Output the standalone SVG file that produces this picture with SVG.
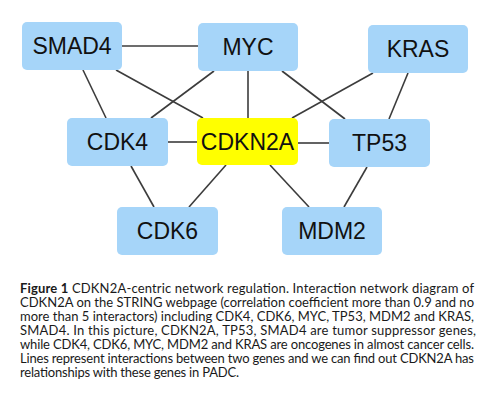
<svg xmlns="http://www.w3.org/2000/svg" width="487" height="409" viewBox="0 0 487 409">
<style>
.node rect{fill:#a6d5f9;}
.node.center rect{fill:#ffff00;}
.node text{font-family:"Liberation Sans",Arial,sans-serif;font-size:23px;fill:#111;text-anchor:middle;}
.edges line{stroke:#3c3c3c;stroke-width:1.6;}
.cap{font-family:Lato,"Open Sans",sans-serif;font-size:13px;fill:#1a1a1a;}
.cap .b{font-weight:bold;}
</style>
<rect width="487" height="409" fill="#fff"/>
<g id="connectors" class="edges">
<line x1="122" y1="46" x2="198" y2="46"/>
<line x1="83" y1="70" x2="106" y2="118"/>
<line x1="116" y1="70" x2="203" y2="118"/>
<line x1="214" y1="71" x2="151" y2="118"/>
<line x1="248" y1="71" x2="248" y2="118"/>
<line x1="282" y1="71" x2="345" y2="119"/>
<line x1="373" y1="73" x2="292" y2="118"/>
<line x1="408" y1="73" x2="389" y2="119"/>
<line x1="168" y1="142" x2="197" y2="142"/>
<line x1="298" y1="143" x2="329" y2="143"/>
<line x1="131" y1="166" x2="154" y2="207"/>
<line x1="226" y1="165" x2="189" y2="207"/>
<line x1="270" y1="165" x2="309" y2="207"/>
<line x1="367" y1="167" x2="344" y2="207"/>
</g>
<g id="SMAD4" class="node"><rect x="22" y="22" width="100" height="48" rx="5"/><text x="72" y="54">SMAD4</text></g>
<g id="MYC" class="node"><rect x="198" y="23" width="100" height="48" rx="5"/><text x="248" y="55">MYC</text></g>
<g id="KRAS" class="node"><rect x="368" y="25" width="100" height="48" rx="5"/><text x="418" y="57">KRAS</text></g>
<g id="CDK4" class="node"><rect x="67" y="118" width="101" height="48" rx="5"/><text x="117.5" y="150">CDK4</text></g>
<g id="CDKN2A" class="node center"><rect x="197" y="118" width="101" height="47" rx="5"/><text x="247.5" y="149.5">CDKN2A</text></g>
<g id="TP53" class="node"><rect x="329" y="119" width="101" height="48" rx="5"/><text x="379.5" y="151">TP53</text></g>
<g id="CDK6" class="node"><rect x="117" y="207" width="101" height="48" rx="5"/><text x="167.5" y="239">CDK6</text></g>
<g id="MDM2" class="node"><rect x="282" y="207" width="100" height="48" rx="5"/><text x="332" y="239">MDM2</text></g>
<g class="cap">
<text x="20" y="293" textLength="454"><tspan class="b">Figure 1</tspan> CDKN2A-centric network regulation. Interaction network diagram of</text>
<text x="20" y="307" textLength="454">CDKN2A on the STRING webpage (correlation coefficient more than 0.9 and no</text>
<text x="20" y="321" textLength="454">more than 5 interactors) including CDK4, CDK6, MYC, TP53, MDM2 and KRAS,</text>
<text x="20" y="335" textLength="456">SMAD4. In this picture, CDKN2A, TP53, SMAD4 are tumor suppressor genes,</text>
<text x="20" y="349" textLength="454">while CDK4, CDK6, MYC, MDM2 and KRAS are oncogenes in almost cancer cells.</text>
<text x="20" y="363" textLength="454">Lines represent interactions between two genes and we can find out CDKN2A has</text>
<text x="20" y="377" textLength="219">relationships with these genes in PADC.</text>
</g>
</svg>
